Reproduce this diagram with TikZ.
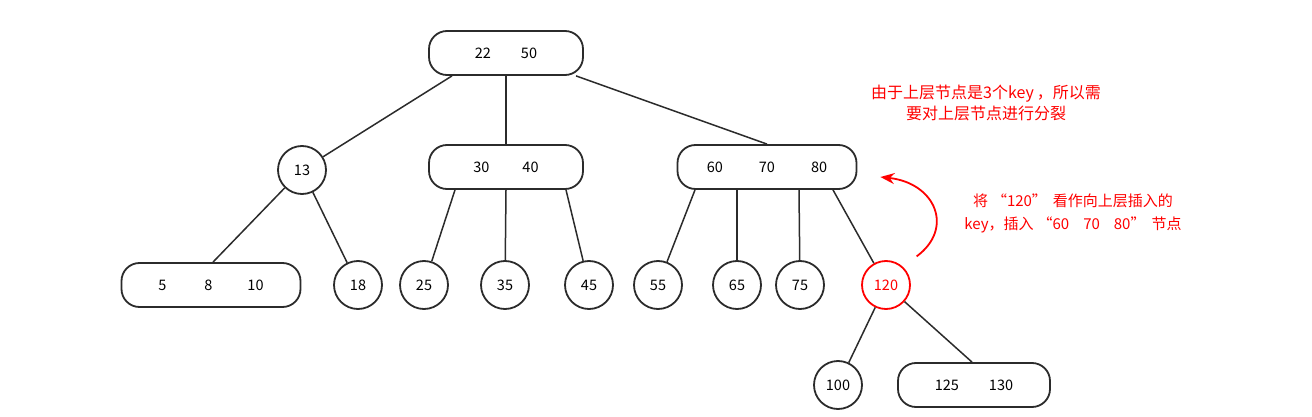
\documentclass[tikz,border=0pt]{standalone}
\usepackage{fontspec}
\setmainfont{Noto Sans CJK SC}
\usetikzlibrary{arrows.meta,positioning}
\definecolor{ink}{HTML}{2B2B2B}
\definecolor{alert}{HTML}{FF0000}

\begin{document}
\begin{tikzpicture}[x=1pt, y=-1pt,
    every node/.style={font=\fontsize{14.5}{16}\selectfont},
    keybox/.style={rectangle, rounded corners=18pt, draw=ink, line width=1.8pt,
        fill=white, minimum height=44pt, inner sep=0pt},
    keyleaf/.style={circle, draw=ink, line width=1.8pt, minimum size=48pt, inner sep=0pt},
    newkey/.style={keyleaf, draw=alert, text=alert},
    link/.style={draw=ink, line width=1.5pt},
    note/.style={text=alert, align=center},
]
\useasboundingbox (0,0) rectangle (1312,417);

% Upper level
\node[keybox, minimum width=154pt] (root) at (506,53) {22\hspace{30pt}50};

% Middle level
\node[keyleaf] (k13) at (302,170) {13};
\node[keybox, minimum width=154pt] (m3040) at (506,167) {30\hspace{33pt}40};
\node[keybox, minimum width=179pt] (m607080) at (767,167) {60\hspace{36pt}70\hspace{36pt}80};

% Lower level
\node[keybox, minimum width=179pt] (l5810) at (211,285) {5\hspace{38pt}8\hspace{35pt}10};
\node[keyleaf] (k18) at (358,285) {18};
\node[keyleaf] (k25) at (424,285) {25};
\node[keyleaf] (k35) at (505,285) {35};
\node[keyleaf] (k45) at (589,285) {45};
\node[keyleaf] (k55) at (658,285) {55};
\node[keyleaf] (k65) at (737,285) {65};
\node[keyleaf] (k75) at (800,285) {75};
\node[newkey] (k120) at (886,285) {120};

% Below 120
\node[keyleaf] (k100) at (838,385) {100};
\node[keybox, minimum width=152pt] (l125130) at (974,385) {125\hspace{30pt}130};

% Links
\draw[link] ([xshift=-54pt]root.south) -- (k13);
\draw[link] (root.south) -- (m3040.north);
\draw[link] ([xshift=70pt]root.south) -- (m607080.north);
\draw[link] (k13) -- ([xshift=2pt]l5810.north);
\draw[link] (k13) -- (k18);
\draw[link] ([xshift=-51pt]m3040.south) -- (k25);
\draw[link] (m3040.south) -- (k35);
\draw[link] ([xshift=60pt]m3040.south) -- (k45);
\draw[link] ([xshift=-72pt]m607080.south) -- (k55);
\draw[link] ([xshift=-30pt]m607080.south) -- (k65);
\draw[link] ([xshift=32pt]m607080.south) -- (k75);
\draw[link] ([xshift=66pt]m607080.south) -- (k120);
\draw[link] (k120) -- (k100);
\draw[link] (k120) -- ([xshift=-2pt]l125130.north);

% Notes
\node[note, font=\fontsize{16}{21}\selectfont] (split) at (986,103)
    {由于上层节点是3个key\hspace{3pt}，所以需\\要对上层节点进行分裂};
\node[note, font=\fontsize{15}{23}\selectfont] (insert) at (1073,213)
    {将\hspace{4pt}“120”\hspace{6pt}看作向上层插入的\\
     key，插入\hspace{4pt}“60\hspace{14pt}70\hspace{14pt}80”\hspace{6pt}节点};

% Push 120 up
\draw[alert, line width=1.8pt, -{Stealth[length=14pt, width=11pt]}]
    ([shift={(13,-11)}]k120.north east) .. controls +(38,-28) and +(55,6) ..
    ([shift={(23,10)}]m607080.east);
\end{tikzpicture}
\end{document}
